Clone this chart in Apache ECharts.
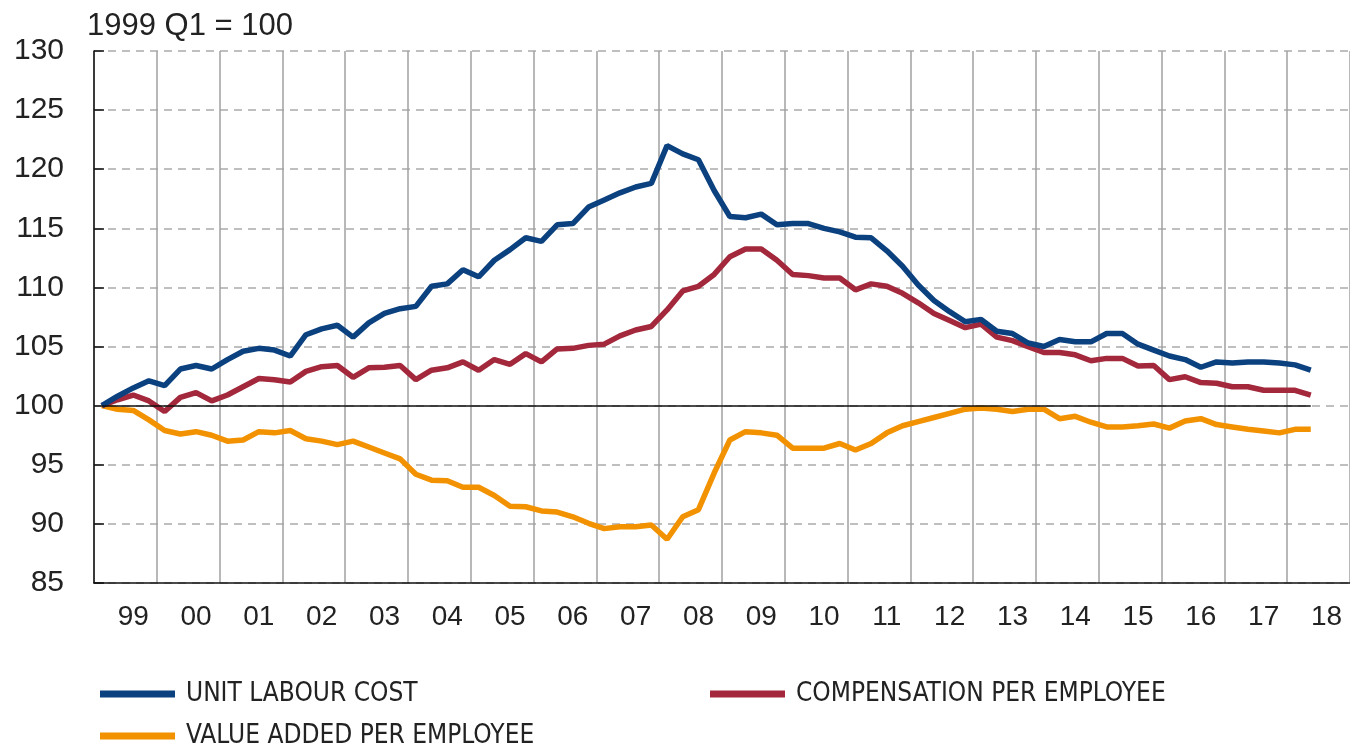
<!DOCTYPE html>
<html>
<head>
<meta charset="utf-8">
<script src="https://cdn.jsdelivr.net/npm/echarts@6/dist/echarts.min.js"></script>
<style>
	html, body { margin: 0; padding: 0; background: #fff; }
	#main { width: 1350px; height: 747px; }
</style>
</head>
<body>
<div id="main"></div>
<script>
// quarterly index, 1999 Q1 = 100
var yearLabels = ['99', '00', '01', '02', '03', '04', '05', '06', '07', '08',
	'09', '10', '11', '12', '13', '14', '15', '16', '17', '18'];

var unitLabourCost = [
	100.0, 100.8, 101.5, 102.1, 101.7, 103.1, 103.4, 103.1, 103.9, 104.6,
	104.85, 104.7, 104.2, 106.0, 106.5, 106.8, 105.8, 107.0, 107.8, 108.2,
	108.4, 110.1, 110.3, 111.5, 110.9, 112.3, 113.2, 114.2, 113.9, 115.3,
	115.4, 116.8, 117.4, 118.0, 118.5, 118.8, 122.0, 121.3, 120.8, 118.2,
	116.0, 115.9, 116.2, 115.3, 115.4, 115.4, 115.0, 114.7, 114.25, 114.2,
	113.1, 111.8, 110.2, 108.9, 107.95, 107.1, 107.3, 106.3, 106.1, 105.3,
	105.0, 105.6, 105.4, 105.4, 106.1, 106.1, 105.2, 104.7, 104.2, 103.9,
	103.25, 103.7, 103.6, 103.7, 103.7, 103.6, 103.45, 103.0
];

var compensationPerEmployee = [
	100.0, 100.5, 100.9, 100.4, 99.5, 100.7, 101.1, 100.4, 100.9, 101.6,
	102.3, 102.2, 102.0, 102.9, 103.3, 103.4, 102.4, 103.2, 103.25, 103.4,
	102.2, 103.0, 103.2, 103.7, 103.0, 103.9, 103.5, 104.4, 103.7, 104.8,
	104.85, 105.1, 105.2, 105.9, 106.4, 106.7, 108.1, 109.7, 110.1, 111.1,
	112.6, 113.25, 113.25, 112.3, 111.1, 111.0, 110.8, 110.8, 109.8, 110.3,
	110.1, 109.5, 108.7, 107.8, 107.2, 106.6, 106.9, 105.8, 105.5, 105.0,
	104.5, 104.5, 104.3, 103.8, 104.0, 104.0, 103.35, 103.4, 102.2, 102.45,
	101.95, 101.9, 101.6, 101.6, 101.3, 101.3, 101.3, 100.9
];

var valueAddedPerEmployee = [
	100.0, 99.7, 99.6, 98.8, 97.9, 97.6, 97.8, 97.5, 97.0, 97.1,
	97.8, 97.7, 97.9, 97.2, 97.0, 96.7, 97.0, 96.5, 96.0, 95.5,
	94.2, 93.7, 93.65, 93.1, 93.1, 92.4, 91.5, 91.45, 91.1, 91.0,
	90.6, 90.05, 89.6, 89.75, 89.75, 89.9, 88.7, 90.6, 91.2, 94.3,
	97.1, 97.8, 97.7, 97.5, 96.4, 96.4, 96.4, 96.8, 96.25, 96.8,
	97.7, 98.3, 98.65, 99.0, 99.35, 99.7, 99.8, 99.7, 99.5, 99.7,
	99.7, 98.9, 99.1, 98.6, 98.2, 98.2, 98.3, 98.45, 98.1, 98.7,
	98.9, 98.4, 98.2, 98.0, 97.85, 97.7, 98.0, 98.0
];

var seriesNames = ['UNIT LABOUR COST', 'COMPENSATION PER EMPLOYEE', 'VALUE ADDED PER EMPLOYEE'];
var seriesColors = ['#0b417f', '#a3283b', '#f29200'];

// 20 years x 4 quarters on the axis
var quarters = [];
for (var y = 0; y < yearLabels.length; y++) {
	for (var q = 1; q <= 4; q++) {
		quarters.push(yearLabels[y] + ' Q' + q);
	}
}

var baseFont = "'Liberation Sans', Arial, sans-serif";
var legendFont = "'Liberation Sans Narrow', 'DejaVu Sans Condensed', 'Liberation Sans', sans-serif";

function legendAt(name, left, top) {
	return {
		data: [name],
		left: left,
		top: top,
		icon: 'rect',
		itemWidth: 75,
		itemHeight: 7,
		selectedMode: false,
		textStyle: {
			fontFamily: legendFont,
			fontSize: 26,
			color: '#222',
			padding: [0, 0, 0, 6]
		}
	};
}

function display() {
	var myChart = echarts.init(document.getElementById('main'));

	var option = {
		backgroundColor: '#fff',
		animation: false,
		textStyle: { fontFamily: baseFont },
		title: {
			text: '1999 Q1 = 100',
			left: 82,
			top: 6,
			textStyle: { fontFamily: baseFont, fontSize: 31, fontWeight: 'normal', color: '#222' }
		},
		legend: [
			legendAt(seriesNames[0], 95, 676),
			legendAt(seriesNames[1], 705, 676),
			legendAt(seriesNames[2], 95, 718)
		],
		grid: {
			left: 94,
			top: 51,
			bottom: 164,
			width: 1258
		},
		xAxis: {
			type: 'category',
			data: quarters,
			boundaryGap: true,
			axisLine: { lineStyle: { color: '#111', width: 1.5 } },
			axisTick: { inside: true, length: 9, interval: 3, lineStyle: { color: '#111', width: 1.5 } },
			axisLabel: {
				interval: function(i) { return i % 4 === 2; },
				formatter: function(val, i) { return yearLabels[Math.floor(i / 4)]; },
				fontFamily: baseFont,
				fontSize: 28,
				color: '#222',
				margin: 20
			},
			splitLine: { show: true, interval: 3, lineStyle: { color: '#a0a0a0', width: 1.5 } }
		},
		yAxis: {
			type: 'value',
			min: 85,
			max: 130,
			interval: 5,
			axisLine: { show: true, lineStyle: { color: '#111', width: 1.5 } },
			axisTick: { show: true, inside: true, length: 10, lineStyle: { color: '#111', width: 1.5 } },
			axisLabel: { fontFamily: baseFont, fontSize: 30, color: '#222', margin: 30 },
			splitLine: { lineStyle: { color: '#aaa', width: 1.5, type: [8, 6] } }
		},
		series: [
			{
				name: seriesNames[2],
				type: 'line',
				data: valueAddedPerEmployee,
				symbol: 'none',
				color: seriesColors[2],
				lineStyle: { width: 5.5 },
				markLine: {
					silent: true,
					symbol: 'none',
					label: { show: false },
					lineStyle: { color: '#111', width: 1.5, type: 'solid' },
					data: [[{ coord: [0, 100] }, { coord: [quarters.length - 3, 100] }]]
				}
			},
			{
				name: seriesNames[1],
				type: 'line',
				data: compensationPerEmployee,
				symbol: 'none',
				color: seriesColors[1],
				lineStyle: { width: 5.5 }
			},
			{
				name: seriesNames[0],
				type: 'line',
				data: unitLabourCost,
				symbol: 'none',
				color: seriesColors[0],
				lineStyle: { width: 5.5 }
			}
		]
	};

	myChart.setOption(option);
}

display();
</script>
</body>
</html>
